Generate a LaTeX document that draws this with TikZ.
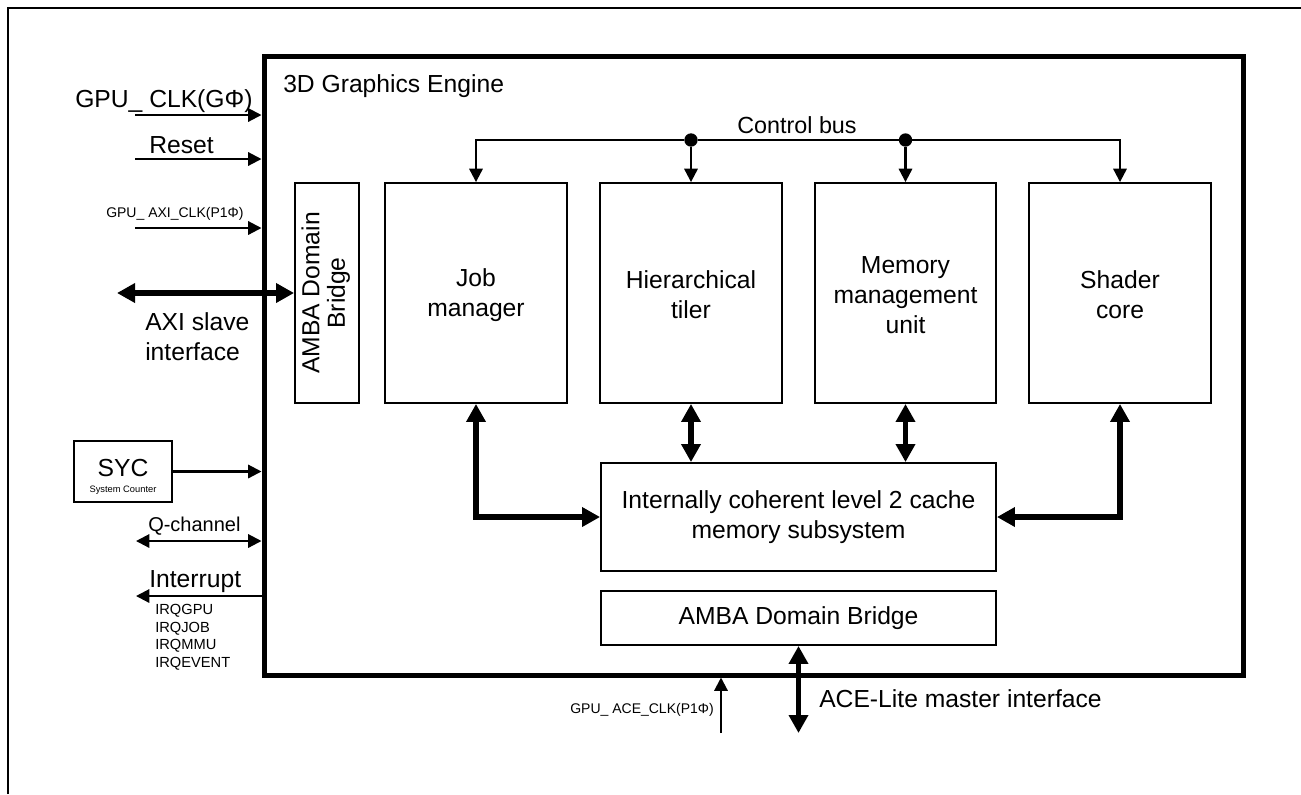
\documentclass[tikz,border=0pt]{standalone}
\usepackage{fontspec}
\setmainfont{Liberation Sans}
\usepackage{graphicx}
\usetikzlibrary{arrows.meta}
\newcommand\FBig{\fontsize{18.5}{22.5}\selectfont}
\newcommand\FBus{\fontsize{17.5}{21}\selectfont}
\newcommand\FQ{\fontsize{15}{18}\selectfont}
\newcommand\FSm{\fontsize{10.5}{12.6}\selectfont}
\newcommand\FIrq{\fontsize{11}{13.3}\selectfont}
\newcommand\FTiny{\fontsize{7}{8.4}\selectfont}
\begin{document}
\begin{tikzpicture}[x=0.75pt,y=-0.75pt,
  box/.style={draw,line width=1.4pt,inner sep=0pt,align=center,font=\FBig},
  tall/.style={box,minimum width=136.5pt,minimum height=165pt},
  frame/.style={draw,line width=3.75pt,inner sep=0pt},
  lbl/.style={inner sep=0pt,font=\FBig},
  arr/.style={line width=1.6pt,-{Triangle[length=10pt,width=10pt]}},
  darr/.style={line width=1.6pt,{Triangle[length=10pt,width=10pt]}-{Triangle[length=10pt,width=10pt]}},
  barr/.style={line width=4.2pt,{Triangle[length=13.5pt,width=14pt]}-{Triangle[length=13.5pt,width=14pt]}},
  dot/.style={circle,fill,inner sep=0pt,minimum size=10pt}]
\useasboundingbox[fill=white] (0,0) rectangle (1301,794);
\draw[line width=1.8pt] (8,794) -- (8,8) -- (1301,8);

% main frame
\node[frame,minimum width=734.25pt,minimum height=464.25pt] (gpu) at (753.5,365.5) {};
\node[lbl,anchor=base west] (title) at (283,92) {3D Graphics Engine};

% blocks
\node[box,minimum width=48pt,minimum height=165pt] (ab1) at (327,293) {\rotatebox{90}{\renewcommand\arraystretch{0.85}\begin{tabular}{@{}c@{}}AMBA Domain\\Bridge\end{tabular}}};
\node[tall] (jm) at (476,293) {\rule{0pt}{16pt}Job\\manager};
\node[tall] (ht) at (691,293) {\rule{0pt}{16pt}Hierarchical\\tiler};
\node[tall,minimum width=135.75pt] (mmu) at (905.5,293) {\rule{0pt}{16pt}Memory\\management\\unit};
\node[tall] (sc) at (1120,293) {\rule{0pt}{16pt}Shader\\core};
\node[box,minimum width=296.25pt,minimum height=81pt] (cache) at (798.5,517) {Internally coherent level 2 cache\\memory subsystem};
\node[box,minimum width=296.25pt,minimum height=40.5pt] (ab2) at (798.5,618) {AMBA Domain Bridge};

% control bus
\node[dot] (d1) at (ht.north |- 0,140) {};
\node[dot] (d2) at (mmu.north |- 0,140) {};
\draw[line width=1.4pt] (d1) -- (d2);
\draw[arr] (d1) -| (jm.north);
\draw[arr] (d2) -| (sc.north);
\draw[arr] (d1) -- (ht.north);
\draw[arr] (d2) -- (mmu.north);
\node[lbl,font=\FBus,anchor=base] (cbus) at (797,133) {Control bus};

% internal data paths
\draw[barr] (jm.south) |- (cache.west);
\draw[barr] (sc.south) |- (cache.east);
\draw[barr] (ht.south) -- (ht.south |- cache.north);
\draw[barr] (mmu.south) -- (mmu.south |- cache.north);

% bottom interface
\coordinate (ace) at (ab2.south |- 0,733);
\draw[barr] (ab2.south) -- (ace);
\node[lbl,anchor=base west] (acel) at (819,707) {ACE-Lite master interface};
\coordinate (aceclk) at (721,733);
\draw[arr] (aceclk) -- (aceclk |- gpu.south);
\node[lbl,font=\FSm,anchor=base east] (aceclkl) at (714,713) {GPU\_ ACE\_CLK(P1Φ)};

% left inputs
\coordinate (iclk) at (135,115);
\draw[arr] (iclk) -- (iclk -| gpu.west);
\node[lbl,anchor=base west] (iclkl) at (75,107) {GPU\_ CLK(GΦ)};
\coordinate (irst) at (135,159);
\draw[arr] (irst) -- (irst -| gpu.west);
\node[lbl,anchor=base west] (irstl) at (149,153) {Reset};
\coordinate (iaxc) at (135,228);
\draw[arr] (iaxc) -- (iaxc -| gpu.west);
\node[lbl,font=\FSm,anchor=base west] (iaxcl) at (106,217) {GPU\_ AXI\_CLK(P1Φ)};

\coordinate (axi) at (117,293);
\draw[barr] (axi) -- (ab1.west);
\node[lbl,align=left,anchor=north west] (axil) at (145,312) {AXI slave\\interface};

\node[box,minimum width=73.5pt,minimum height=45.75pt] (syc) at (123,471.5) {\rule{0pt}{20.3pt}SYC\\[-10.5pt]{\FTiny System Counter}};
\draw[arr] (syc.east) -- (syc.east -| gpu.west);

\coordinate (q) at (136,541);
\draw[darr] (q) -- (q -| gpu.west);
\node[lbl,font=\FQ,anchor=base west] (ql) at (148,531) {Q-channel};

\coordinate (int) at (136,596);
\draw[arr] (int -| gpu.west) -- (int);
\node[lbl,anchor=base west] (intl) at (149,587) {Interrupt};
\node[lbl,font=\FIrq,align=left,anchor=north west] (irq) at (155,604) {IRQGPU\\IRQJOB\\IRQMMU\\IRQEVENT};
\end{tikzpicture}
\end{document}
